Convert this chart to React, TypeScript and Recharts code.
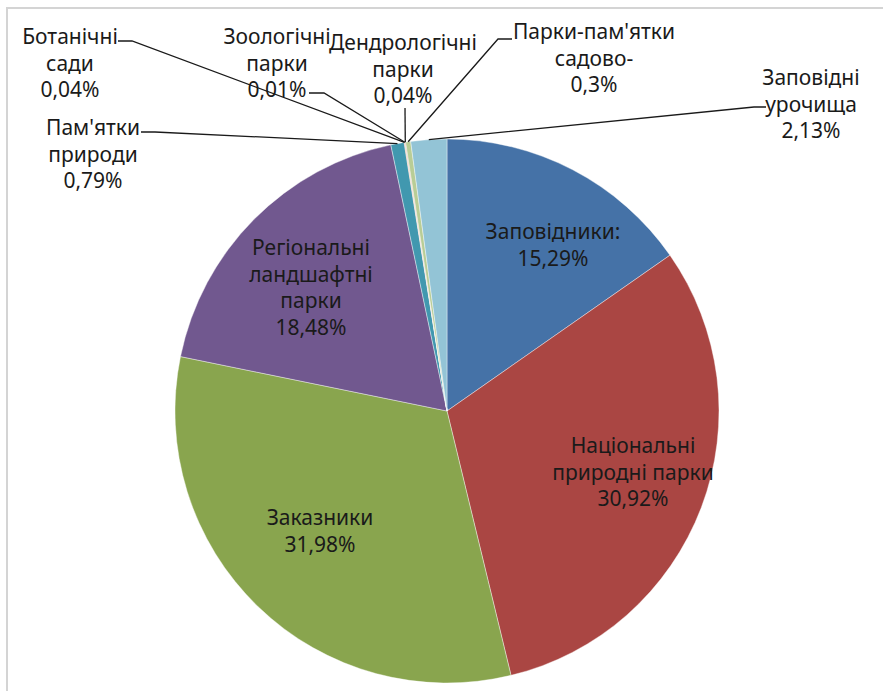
import React from 'react';
import { PieChart, Pie, Cell } from 'recharts';

const categories = [
  'Заповідники:',
  'Національні\nприродні парки',
  'Заказники',
  'Регіональні\nландшафтні\nпарки',
  "Пам'ятки\nприроди",
  'Ботанічні\nсади',
  'Зоологічні\nпарки',
  'Дендрологічні\nпарки',
  "Парки-пам'ятки\nсадово-",
  'Заповідні\nурочища',
];

const shares = [15.29, 30.92, 31.98, 18.48, 0.79, 0.04, 0.01, 0.04, 0.3, 2.13];

const colors = [
  '#4572A7', '#AA4643', '#89A54E', '#71588F', '#4198AF',
  '#DB843D', '#93A9CF', '#D19392', '#B9CD96', '#93C4D6',
];

// label placement relative to pie centre: text anchor (first baseline) and leader start
const labelLayout: { dx: number; dy: number; lead?: [number, number][] }[] = [
  { dx: 106, dy: -172 },
  { dx: 186, dy: 42 },
  { dx: -127, dy: 114 },
  { dx: -136, dy: -156 },
  { dx: -354, dy: -276, lead: [[-306, -279], [-292, -279]] },
  { dx: -377, dy: -367, lead: [[-329, -370], [-315, -370]] },
  { dx: -170, dy: -367, lead: [[-138, -318], [-123, -318]] },
  { dx: -44, dy: -361, lead: [[-42, -303]] },
  { dx: 147, dy: -372, lead: [[65, -372], [51, -372]] },
  { dx: 364, dy: -326, lead: [[319, -304], [307, -304]] },
];

const data = categories.map((name, i) => ({ name, value: shares[i] }));

const FONT = "'Noto Sans', sans-serif";
const LINE_H = 26.5;
const RAD = Math.PI / 180;

const fmt = (v: number) => String(v).replace('.', ',') + '%';

const renderLabel = (props: any) => {
  const { cx, cy, midAngle, outerRadius, index } = props;
  const lay = labelLayout[index];
  if (!lay) return null;
  const lines = [...categories[index].split('\n'), fmt(shares[index])];
  const tx = cx + lay.dx;
  const ty = cy + lay.dy;
  let leader = null;
  if (lay.lead) {
    const ex = cx + outerRadius * Math.cos(-midAngle * RAD);
    const ey = cy + outerRadius * Math.sin(-midAngle * RAD);
    const pts = lay.lead.map(([x, y]) => `${cx + x},${cy + y}`).join(' ') + ` ${ex},${ey}`;
    leader = <polyline points={pts} fill="none" stroke="#1a1a1a" strokeWidth={1.3} />;
  }
  return (
    <g key={`lbl-${index}`}>
      {leader}
      <text x={tx} y={ty} textAnchor="middle" fill="#1a1a1a" fontSize={21} fontFamily={FONT}>
        {lines.map((l, j) => (
          <tspan key={j} x={tx} y={ty + j * LINE_H}>
            {l}
          </tspan>
        ))}
      </text>
    </g>
  );
};

export default function App() {
  return (
    <div style={{ position: 'absolute', left: 0, top: 0, width: 883, height: 691, overflow: 'hidden', background: '#fff' }}>
      <div
        style={{
          position: 'absolute',
          left: 6,
          top: 7,
          width: 1000,
          height: 1000,
          borderTop: '2px solid #d4d4d4',
          borderLeft: '2px solid #d4d4d4',
        }}
      />
      <div style={{ position: 'absolute', left: 0, top: 0 }}>
        <PieChart width={883} height={691} margin={{ top: 0, right: 0, bottom: 0, left: 0 }}>
          <Pie
            data={data}
            dataKey="value"
            nameKey="name"
            cx={447}
            cy={411}
            outerRadius={272}
            startAngle={90}
            endAngle={-270}
            stroke="#ffffff"
            strokeWidth={0.4}
            label={renderLabel}
            labelLine={false}
            isAnimationActive={false}
          >
            {data.map((d, i) => (
              <Cell key={d.name} fill={colors[i]} />
            ))}
          </Pie>
        </PieChart>
      </div>
    </div>
  );
}
